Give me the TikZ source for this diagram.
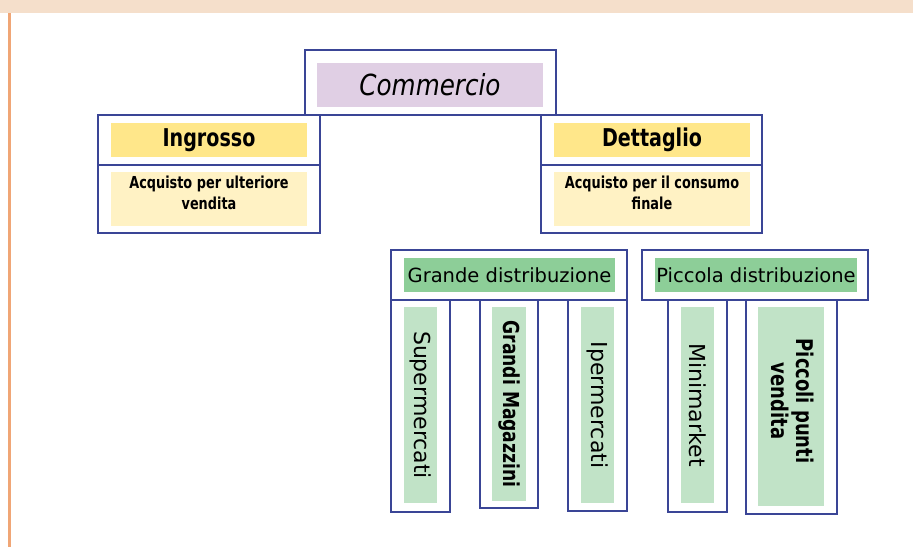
\documentclass[tikz,border=0pt]{standalone}
\usepackage{fontspec}
\setmainfont[BoldFeatures={FakeStretch=0.78},ItalicFeatures={FakeStretch=0.85}]{DejaVu Sans}
\usepackage{xcolor}
\usetikzlibrary{positioning}

\definecolor{edgeblue}{HTML}{3A4596}
\definecolor{bandpeach}{HTML}{F5DFCB}
\definecolor{lineorange}{HTML}{F0A676}
\definecolor{purpfill}{HTML}{E0CFE4}
\definecolor{yellowfill}{HTML}{FFE78A}
\definecolor{paleyellow}{HTML}{FFF2C4}
\definecolor{greenfill}{HTML}{8DCE98}
\definecolor{palegreen}{HTML}{C1E3C7}

\tikzset{
  frame/.style={draw=edgeblue, line width=1.3pt},
  head/.style={inner sep=0pt, font=\fontsize{24.5}{28}\selectfont\bfseries},
  column/.style={inner sep=0pt, rotate=-90, align=center, font=\fontsize{22}{25}\selectfont}
}

\begin{document}
\begin{tikzpicture}[x=1pt, y=-1pt]
      \useasboundingbox (0,0) rectangle (913,547);
      \fill[white] (0,0) rectangle (913,547);

      % page band and side rule
      \fill[bandpeach] (0,0) rectangle (913,13);
      \draw[lineorange, line width=3pt] (9,13) -- (9,547);

      % top level
      \draw[frame] (305,50) rectangle (556,115);
      \node[fill=purpfill, minimum width=226, minimum height=44, inner sep=0pt,
            font=\fontsize{29}{32}\selectfont\itshape] (commercio) at (430,85) {Commercio};

      % ingrosso
      \draw[frame] (98,115) rectangle (320,233);
      \draw[frame] (98,165) -- (320,165);
      \node[head, fill=yellowfill, minimum width=196, minimum height=34] (ingrosso) at (209,140) {Ingrosso};
      \fill[paleyellow] (111,172) rectangle (307,226);
      \node[anchor=north, align=center, inner sep=0pt,
            font=\fontsize{16.5}{20.5}\selectfont\bfseries] (ingdesc) at (209,176) {Acquisto per ulteriore\\vendita};

      % dettaglio
      \draw[frame] (541,115) rectangle (762,233);
      \draw[frame] (541,165) -- (762,165);
      \node[head, fill=yellowfill, minimum width=196, minimum height=34] (dettaglio) at (652,140) {Dettaglio};
      \fill[paleyellow] (554,172) rectangle (750,226);
      \node[anchor=north, align=center, inner sep=0pt,
            font=\fontsize{16.5}{20.5}\selectfont\bfseries] (detdesc) at (652,176) {Acquisto per il consumo\\finale};

      % grande distribuzione
      \draw[frame] (391,250) rectangle (627,300);
      \node[fill=greenfill, minimum width=211, minimum height=34, inner sep=0pt,
            font=\fontsize{19.5}{22}\selectfont] (grande) at (509.5,275) {Grande distribuzione};

      \draw[frame] (391,300) rectangle (450,512);
      \fill[palegreen] (404,307) rectangle (437,503);
      \node[column] (super) at (420.5,405) {Supermercati};

      \draw[frame] (480,300) rectangle (538,508);
      \fill[palegreen] (492,307) rectangle (526,501);
      \node[column, font=\fontsize{22}{25}\selectfont\bfseries] (magazzini) at (509,404) {Grandi Magazzini};

      \draw[frame] (568,300) rectangle (627,511);
      \fill[palegreen] (581,307) rectangle (614,503);
      \node[column] (iper) at (597.5,405) {Ipermercati};

      % piccola distribuzione
      \draw[frame] (642,250) rectangle (868,300);
      \node[fill=greenfill, minimum width=202, minimum height=34, inner sep=0pt,
            font=\fontsize{19.5}{22}\selectfont] (piccola) at (756,275) {Piccola distribuzione};

      \draw[frame] (668,300) rectangle (727,512);
      \fill[palegreen] (681,307) rectangle (714,503);
      \node[column] (mini) at (697.5,405) {Minimarket};

      \draw[frame] (746,300) rectangle (837,514);
      \fill[palegreen] (758,307) rectangle (824,506);
      \node[column, font=\fontsize{23}{25}\selectfont\bfseries] (punti) at (793,401) {Piccoli punti\\vendita};

    \end{tikzpicture}
\end{document}
